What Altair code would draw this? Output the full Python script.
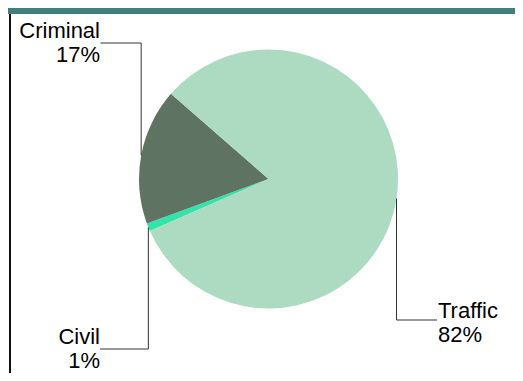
import math
import altair as alt
import pandas as pd

# ---- data ----
categories = ["Civil", "Criminal", "Traffic"]
percent = [1, 17, 82]
colors = ["#33e3a9", "#5f7363", "#acdbc1"]

# ---- layout (pixels, chart coordinates) ----
W, H = 507, 365
CX, CY, R = 260.5, 171, 129.5
START = math.radians(246.3)
FONT = "Liberation Sans"
layout = {
    "Criminal": dict(ly=35, lx=92.5, tx=92, b1=30, align="right"),
    "Civil": dict(ly=341, lx=92, tx=92, b1=336, align="right"),
    "Traffic": dict(ly=312, lx=429, tx=430, b1=310, align="left"),
}
LINE_GAP = 24

pie_df = pd.DataFrame({"category": categories, "percent": percent,
                       "idx": list(range(len(categories)))})

# leader lines computed from the slice mid-angles
total = sum(percent)
cum = 0
line_rows, text_rows = [], []
for c, p in zip(categories, percent):
    mid = START + 2 * math.pi * (cum + p / 2) / total
    cum += p
    ex = CX + R * math.sin(mid)
    ey = CY - R * math.cos(mid)
    L = layout[c]
    line_rows += [
        dict(category=c, o=0, x=ex, y=ey),
        dict(category=c, o=1, x=ex, y=L["ly"]),
        dict(category=c, o=2, x=L["lx"], y=L["ly"]),
    ]
    text_rows += [
        dict(category=c, text=c, x=L["tx"], y=L["b1"], align=L["align"]),
        dict(category=c, text=f"{p}%", x=L["tx"], y=L["b1"] + LINE_GAP, align=L["align"]),
    ]
lines_df = pd.DataFrame(line_rows)
text_df = pd.DataFrame(text_rows)

xs = alt.Scale(domain=[0, W], range=[0, W], zero=False, nice=False)
ys = alt.Scale(domain=[0, H], range=[0, H], zero=False, nice=False)

frame = pd.DataFrame({"k": [0]})
header = alt.Chart(frame).mark_rect(color="#417f7e").encode(
    x=alt.value(0), x2=alt.value(W), y=alt.value(0), y2=alt.value(6))
leftline = alt.Chart(frame).mark_rule(color="#111111", strokeWidth=2).encode(
    x=alt.value(2), y=alt.value(6), y2=alt.value(H))

pie = alt.Chart(pie_df).mark_arc(outerRadius=R).encode(
    theta=alt.Theta("percent:Q", stack=True,
                    scale=alt.Scale(range=[START, START + 2 * math.pi])),
    color=alt.Color("category:N", scale=alt.Scale(domain=categories, range=colors),
                    legend=None),
    order=alt.Order("idx:Q"),
    x=alt.value(CX), y=alt.value(CY),
)

leaders = alt.Chart(lines_df).mark_line(color="#333333", strokeWidth=1).encode(
    x=alt.X("x:Q", scale=xs, axis=None),
    y=alt.Y("y:Q", scale=ys, axis=None),
    detail="category:N",
    order="o:Q",
)

txt_right = alt.Chart(text_df[text_df["align"] == "right"]).mark_text(
    align="right", baseline="alphabetic", font=FONT, fontSize=22, color="#000000"
).encode(x=alt.X("x:Q", scale=xs, axis=None), y=alt.Y("y:Q", scale=ys, axis=None),
         text="text:N")
txt_left = alt.Chart(text_df[text_df["align"] == "left"]).mark_text(
    align="left", baseline="alphabetic", font=FONT, fontSize=22, color="#000000"
).encode(x=alt.X("x:Q", scale=xs, axis=None), y=alt.Y("y:Q", scale=ys, axis=None),
         text="text:N")

chart = alt.layer(header, leftline, pie, leaders, txt_right, txt_left).properties(
    width=W, height=H, padding=0,
    autosize=alt.AutoSizeParams(type="none"),
    background="white",
).configure_view(stroke=None)

chart.save("out.html", embed_options={"renderer": "svg", "actions": False})
